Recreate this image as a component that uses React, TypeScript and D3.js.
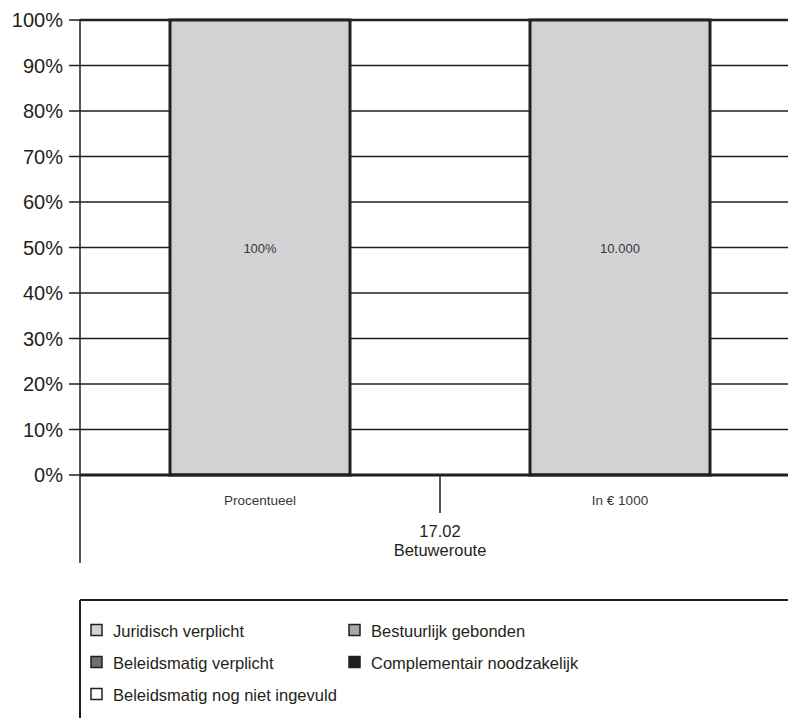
import React from "react";
import * as d3 from "d3";

const categories = ["Procentueel", "In € 1000"];
const values = [100, 100];
const barLabels = ["100%", "10.000"];
const yTicks = [0, 10, 20, 30, 40, 50, 60, 70, 80, 90, 100];
const groupLabel = ["17.02", "Betuweroute"];
const legendItems = [
  { name: "Juridisch verplicht", color: "#d1d2d4" },
  { name: "Bestuurlijk gebonden", color: "#a7a9ac" },
  { name: "Beleidsmatig verplicht", color: "#6d6e71" },
  { name: "Complementair noodzakelijk", color: "#231f20" },
  { name: "Beleidsmatig nog niet ingevuld", color: "#ffffff" },
];

const W = 788;
const H = 718;
const font = "'Liberation Sans', Arial, Helvetica, sans-serif";
const ink = "#231f20";

export default function App() {
  const left = 80;
  const right = 800;
  const top = 20;
  const bottom = 475;
  const x = d3.scaleBand<string>().domain(categories).range([left, right]).paddingInner(0.5).paddingOuter(0.25);
  const y = d3.scaleLinear().domain([0, 100]).range([bottom, top]);
  const mid = (left + right) / 2;

  return (
    <svg width={W} height={H} style={{ position: "absolute", left: 0, top: 0 }} fontFamily={font}>
      <rect x={0} y={0} width={W} height={H} fill="#fff" />
      {yTicks.map((t) => (
        <line key={"g" + t} x1={left} x2={W} y1={y(t)} y2={y(t)} stroke={ink} strokeWidth={t === 100 ? 2.5 : 1.5} />
      ))}
      {categories.map((c, i) => (
        <g key={c}>
          <rect x={x(c)!} y={y(values[i])} width={x.bandwidth()} height={y(0) - y(values[i])} fill="#d1d2d4" stroke={ink} strokeWidth={3} />
          <text x={x(c)! + x.bandwidth() / 2} y={y(50) + 5} textAnchor="middle" fontSize={13} fill="#3a3637">
            {barLabels[i]}
          </text>
          <text x={x(c)! + x.bandwidth() / 2} y={505} textAnchor="middle" fontSize={13.5} fill="#3a3637">
            {c}
          </text>
        </g>
      ))}
      <line x1={left} x2={W} y1={bottom} y2={bottom} stroke={ink} strokeWidth={3} />
      <line x1={left} x2={left} y1={top - 1} y2={563} stroke={ink} strokeWidth={1.5} />
      {yTicks.map((t) => (
        <g key={"t" + t}>
          <line x1={69} x2={left} y1={y(t)} y2={y(t)} stroke={ink} strokeWidth={1.5} />
          <text x={63} y={y(t) + 7} textAnchor="end" fontSize={20} fill={ink}>
            {t}%
          </text>
        </g>
      ))}
      <line x1={mid} x2={mid} y1={bottom} y2={513} stroke={ink} strokeWidth={1.5} />
      <text x={mid} y={537} textAnchor="middle" fontSize={16.5} fill={ink}>{groupLabel[0]}</text>
      <text x={mid} y={556} textAnchor="middle" fontSize={16.5} fill={ink}>{groupLabel[1]}</text>
      <line x1={left} x2={W} y1={600} y2={600} stroke={ink} strokeWidth={2} />
      <line x1={left} x2={left} y1={600} y2={H} stroke={ink} strokeWidth={2} />
      {legendItems.map((it, i) => {
        const col = i === 4 ? 0 : i % 2;
        const row = Math.floor(i / 2);
        const lx = col === 0 ? 91 : 349;
        const ly = 630 + row * 32;
        return (
          <g key={it.name}>
            <rect x={lx} y={ly - 5.5} width={11} height={11} fill={it.color} stroke={ink} strokeWidth={1.5} />
            <text x={lx + 22} y={ly + 6.5} fontSize={16.5} fill={ink}>{it.name}</text>
          </g>
        );
      })}
    </svg>
  );
}
